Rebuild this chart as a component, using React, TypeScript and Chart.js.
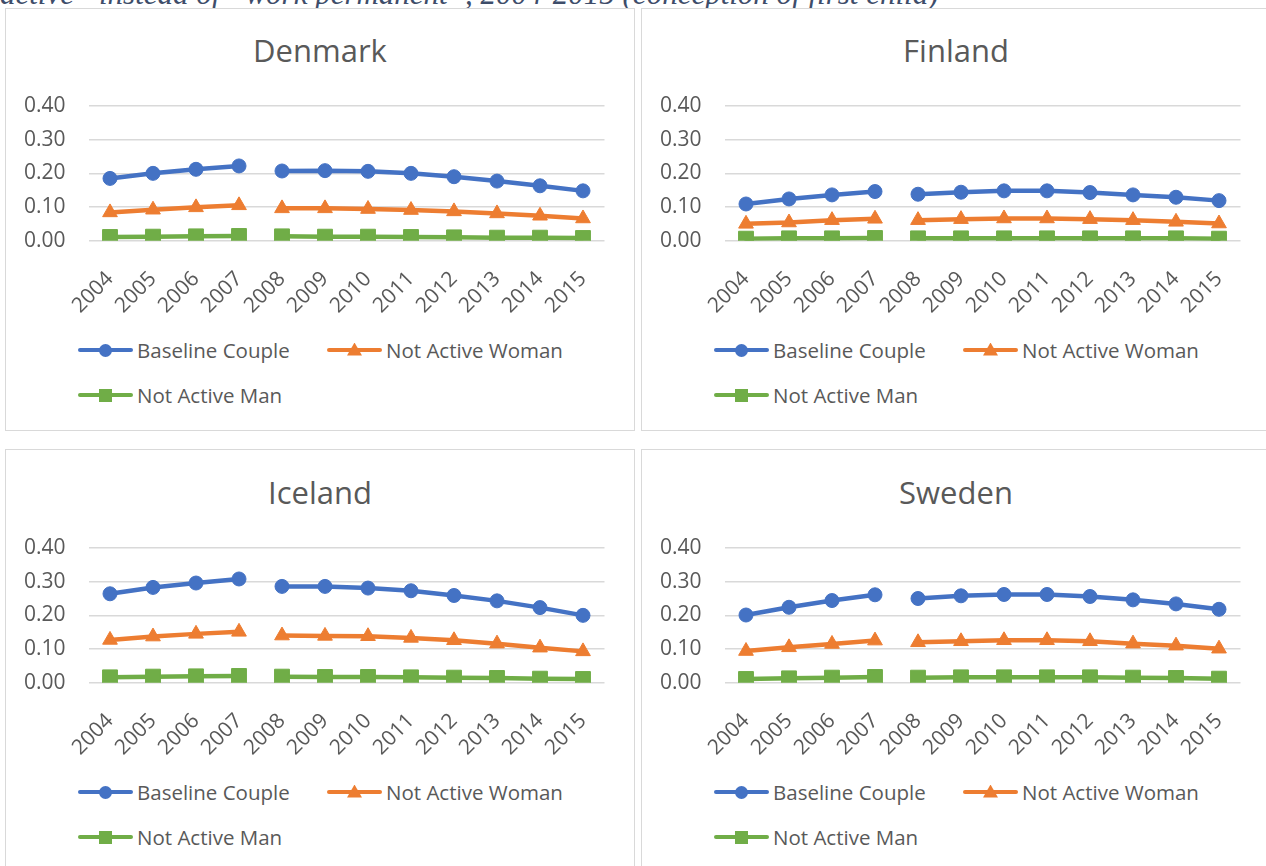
import React, { useEffect, useRef } from 'react';
import { Chart, registerables } from 'chart.js';

Chart.register(...registerables);

const years = ['2004', '2005', '2006', '2007', '2008', '2009', '2010', '2011', '2012', '2013', '2014', '2015'];
const yTicks = [0, 0.1, 0.2, 0.3, 0.4];
const seriesNames = ['Baseline Couple', 'Not Active Woman', 'Not Active Man'];
const seriesColors = ['#4472C4', '#ED7D31', '#70AD47'];
const pointStyles = ['circle', 'triangle', 'rect'];
const pointRadii = [7, 8.5, 10.5];

const denmarkBaseline = [0.185, 0.200, 0.212, 0.222, 0.207, 0.208, 0.206, 0.200, 0.190, 0.177, 0.163, 0.148];
const denmarkWoman = [0.084, 0.092, 0.099, 0.105, 0.096, 0.096, 0.094, 0.091, 0.087, 0.081, 0.074, 0.066];
const denmarkMan = [0.011, 0.012, 0.013, 0.014, 0.013, 0.012, 0.012, 0.011, 0.010, 0.009, 0.009, 0.008];

const finlandBaseline = [0.109, 0.124, 0.136, 0.146, 0.138, 0.144, 0.148, 0.148, 0.143, 0.136, 0.129, 0.119];
const finlandWoman = [0.050, 0.054, 0.061, 0.065, 0.061, 0.064, 0.066, 0.066, 0.064, 0.061, 0.056, 0.051];
const finlandMan = [0.006, 0.007, 0.007, 0.008, 0.007, 0.007, 0.007, 0.007, 0.007, 0.007, 0.007, 0.006];

const icelandBaseline = [0.264, 0.283, 0.296, 0.308, 0.286, 0.286, 0.281, 0.273, 0.259, 0.243, 0.223, 0.200];
const icelandWoman = [0.127, 0.137, 0.145, 0.151, 0.140, 0.139, 0.138, 0.133, 0.126, 0.116, 0.104, 0.093];
const icelandMan = [0.016, 0.018, 0.019, 0.020, 0.018, 0.017, 0.017, 0.016, 0.015, 0.014, 0.012, 0.011];

const swedenBaseline = [0.201, 0.224, 0.244, 0.261, 0.250, 0.258, 0.262, 0.262, 0.256, 0.246, 0.234, 0.218];
const swedenWoman = [0.094, 0.105, 0.115, 0.125, 0.120, 0.123, 0.126, 0.126, 0.123, 0.116, 0.110, 0.101];
const swedenMan = [0.011, 0.013, 0.015, 0.017, 0.015, 0.016, 0.016, 0.016, 0.016, 0.015, 0.014, 0.012];

const FONT = '"Open Sans", sans-serif';
const TEXT = '#595959';

function LegendMarker({ idx }: { idx: number }) {
  const c = seriesColors[idx];
  const base: React.CSSProperties = { position: 'absolute', left: '50%', top: '50%', background: c };
  if (idx === 0) {
    return <div style={{ ...base, width: 13, height: 13, marginLeft: -6.5, marginTop: -6.5, borderRadius: '50%' }} />;
  }
  if (idx === 1) {
    return (
      <div
        style={{ ...base, width: 15, height: 13, marginLeft: -7.5, marginTop: -7.5, clipPath: 'polygon(50% 0, 100% 100%, 0 100%)' }}
      />
    );
  }
  return <div style={{ ...base, width: 13, height: 13, marginLeft: -6.5, marginTop: -6.5 }} />;
}

function LegendItem({ idx, x, y }: { idx: number; x: number; y: number }) {
  return (
    <div style={{ position: 'absolute', left: x, top: y - 15, height: 30, display: 'flex', alignItems: 'center' }}>
      <div style={{ position: 'relative', width: 55, height: 4.5, background: seriesColors[idx], borderRadius: 2 }}>
        <LegendMarker idx={idx} />
      </div>
      <span style={{ marginLeft: 4, fontFamily: FONT, fontSize: 20.5, color: TEXT, whiteSpace: 'nowrap', lineHeight: '30px' }}>
        {seriesNames[idx]}
      </span>
    </div>
  );
}

function Panel({ title, values, left, top, dy }: { title: string; values: number[][]; left: number; top: number; dy: number }) {
  const ref = useRef<HTMLCanvasElement>(null);
  useEffect(() => {
    const chart = new Chart(ref.current as HTMLCanvasElement, {
      type: 'line',
      data: {
        labels: years,
        datasets: values.map((v, i) => ({
          label: seriesNames[i],
          data: v,
          order: 3 - i,
          borderColor: seriesColors[i],
          backgroundColor: seriesColors[i],
          pointBackgroundColor: seriesColors[i],
          pointBorderColor: seriesColors[i],
          pointBorderWidth: 1,
          pointStyle: pointStyles[i] as any,
          pointRadius: pointRadii[i],
          pointHoverRadius: pointRadii[i],
          borderWidth: 4.5,
          borderJoinStyle: 'round' as const,
          borderCapStyle: 'round' as const,
          tension: 0,
          fill: false,
          segment: {
            borderColor: (ctx: any) => (ctx.p0DataIndex === 3 ? 'rgba(0,0,0,0)' : seriesColors[i]),
          },
        })),
      },
      options: {
        animation: false,
        responsive: false,
        maintainAspectRatio: false,
        devicePixelRatio: 1,
        events: [],
        layout: { padding: { top: 27, left: 0, right: 29.5, bottom: 0 } },
        plugins: { legend: { display: false }, title: { display: false }, tooltip: { enabled: false } },
        scales: {
          x: {
            type: 'category',
            offset: true,
            grid: { display: false, drawTicks: false, tickLength: 0 },
            border: { display: false },
            ticks: {
              autoSkip: false,
              maxRotation: 45,
              minRotation: 45,
              padding: 26,
              color: TEXT,
              font: { family: FONT, size: 21 },
            },
            afterFit: (s: any) => {
              s.height = 78.3;
            },
          },
          y: {
            min: 0,
            max: 0.4,
            afterFit: (s: any) => {
              s.width = 82.5;
              s.paddingTop = 0;
              s.paddingBottom = 0;
            },
            afterBuildTicks: (s: any) => {
              s.ticks = yTicks.map((v) => ({ value: v }));
            },
            ticks: {
              padding: 23,
              color: TEXT,
              font: { family: FONT, size: 21 },
              callback: (v: any) => Number(v).toFixed(2),
            },
            grid: { color: '#d9d9d9', lineWidth: 1.5, drawTicks: false, tickLength: 0 },
            border: { display: false },
          },
        },
      },
    } as any);
    return () => chart.destroy();
  }, [values]);

  return (
    <div
      style={{
        position: 'absolute',
        left,
        top,
        width: 630,
        height: 423,
        border: '1px solid #d9d9d9',
        boxSizing: 'border-box',
        background: '#fff',
      }}
    >
      <div
        style={{
          position: 'absolute',
          left: 0,
          top: 21 + dy,
          width: '100%',
          textAlign: 'center',
          fontFamily: FONT,
          fontSize: 31,
          lineHeight: '40px',
          color: TEXT,
        }}
      >
        {title}
      </div>
      <canvas ref={ref} width={628} height={240} style={{ position: 'absolute', left: 0, top: 70 + dy, width: 628, height: 240 }} />
      <LegendItem idx={0} x={72} y={341 + dy} />
      <LegendItem idx={1} x={321} y={341 + dy} />
      <LegendItem idx={2} x={72} y={386 + dy} />
    </div>
  );
}

const denmarkValues = [denmarkBaseline, denmarkWoman, denmarkMan];
const finlandValues = [finlandBaseline, finlandWoman, finlandMan];
const icelandValues = [icelandBaseline, icelandWoman, icelandMan];
const swedenValues = [swedenBaseline, swedenWoman, swedenMan];

export default function App() {
  return (
    <div style={{ position: 'absolute', left: 0, top: 0, width: 1266, height: 866, overflow: 'hidden', background: '#fff' }}>
      <div
        style={{
          position: 'absolute',
          left: 0,
          top: -22,
          whiteSpace: 'nowrap',
          fontFamily: '"Liberation Serif", serif',
          fontStyle: 'italic',
          fontSize: 31,
          lineHeight: '31px',
          color: '#3e4d6a',
        }}
      >
        active” instead of “work permanent”, 2004-2015 (conception of first child)
      </div>
      <Panel title="Denmark" values={denmarkValues} left={5} top={8} dy={0} />
      <Panel title="Finland" values={finlandValues} left={641} top={8} dy={0} />
      <Panel title="Iceland" values={icelandValues} left={5} top={449} dy={1} />
      <Panel title="Sweden" values={swedenValues} left={641} top={449} dy={1} />
    </div>
  );
}
